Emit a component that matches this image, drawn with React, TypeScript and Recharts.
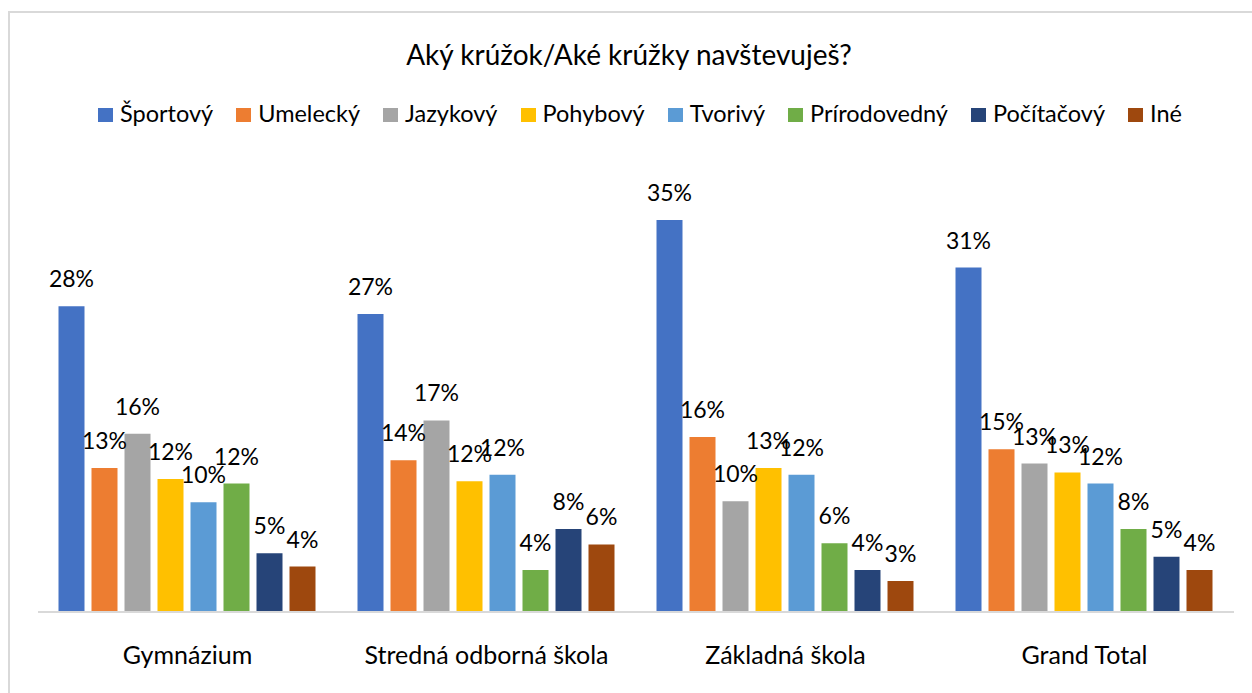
import React from 'react'
import { BarChart, Bar, XAxis, YAxis, LabelList } from 'recharts'

const categories = ['Gymnázium', 'Stredná odborná škola', 'Základná škola', 'Grand Total']

const seriesNames = ['Športový', 'Umelecký', 'Jazykový', 'Pohybový', 'Tvorivý', 'Prírodovedný', 'Počítačový', 'Iné']
const seriesColors = ['#4472C4', '#ED7D31', '#A5A5A5', '#FFC000', '#5B9BD5', '#70AD47', '#264478', '#9E480E']

// percentages per category (same order as categories)
const sportovy = [27.6, 26.9, 35.4, 31.1]
const umelecky = [13.0, 13.7, 15.8, 14.7]
const jazykovy = [16.1, 17.3, 10.0, 13.4]
const pohybovy = [12.0, 11.8, 13.0, 12.6]
const tvorivy = [9.9, 12.4, 12.4, 11.6]
const prirodovedny = [11.6, 3.8, 6.2, 7.5]
const pocitacovy = [5.3, 7.5, 3.8, 5.0]
const ine = [4.1, 6.1, 2.8, 3.8]

const seriesValues = [sportovy, umelecky, jazykovy, pohybovy, tvorivy, prirodovedny, pocitacovy, ine]

const data = categories.map((name, i) => {
  const row: Record<string, string | number> = { name }
  seriesNames.forEach((s, j) => {
    row[s] = seriesValues[j][i]
  })
  return row
})

const FONT = 'Lato, "Open Sans", sans-serif'

const ChartLegend = () => (
  <div
    style={{
      position: 'absolute',
      top: 103,
      left: 14,
      width: 1252,
      display: 'flex',
      justifyContent: 'center',
      fontFamily: FONT,
    }}
  >
    {seriesNames.map((s, i) => (
      <div key={s} style={{ display: 'flex', alignItems: 'flex-start', height: 20, marginLeft: i === 0 ? 0 : 23 }}>
        <div style={{ width: 15, height: 14, marginTop: 5, marginRight: 7, background: seriesColors[i] }} />
        <span style={{ fontSize: 23.5, lineHeight: '20px', color: '#000' }}>{s}</span>
      </div>
    ))}
  </div>
)

const CategoryTick = (props: any) => {
  const { x, y, payload } = props
  return (
    <text x={x} y={y + 52} textAnchor="middle" fontFamily={FONT} fontSize={25} fill="#000">
      {payload.value}
    </text>
  )
}

export default function App() {
  return (
    <div style={{ position: 'relative', width: 1252, height: 693, overflow: 'hidden', background: '#fff' }}>
      <style>{'body{margin:0;overflow:hidden}'}</style>
      <div
        style={{
          position: 'absolute',
          left: 8,
          top: 11,
          width: 1300,
          height: 800,
          border: '2px solid #d9d9d9',
          boxSizing: 'border-box',
        }}
      />
      <svg width={1252} height={80} style={{ position: 'absolute', left: 0, top: 0 }}>
        <text x={629} y={65} textAnchor="middle" fontFamily={FONT} fontSize={28} fill="#000">
          Aký krúžok/Aké krúžky navštevuješ?
        </text>
      </svg>
      <ChartLegend />
      <div style={{ position: 'absolute', left: 0, top: 0 }}>
        <BarChart
          width={1252}
          height={693}
          data={data}
          margin={{ top: 169, right: 18, bottom: 51, left: 38 }}
          barCategoryGap={20.5}
          barGap={7}
        >
          <XAxis
            dataKey="name"
            height={30}
            axisLine={{ stroke: '#d9d9d9', strokeWidth: 2 }}
            tickLine={false}
            tickSize={0}
            tickMargin={0}
            tick={<CategoryTick />}
            interval={0}
          />
          <YAxis hide domain={[0, 40]} />
          {seriesNames.map((s, j) => (
            <Bar key={s} dataKey={s} fill={seriesColors[j]} isAnimationActive={false}>
              <LabelList
                dataKey={s}
                position="top"
                offset={19}
                formatter={(v: any) => `${Math.round(Number(v))}%`}
                style={{ fontFamily: FONT, fontSize: 23, fill: '#000' }}
              />
            </Bar>
          ))}
        </BarChart>
      </div>
    </div>
  )
}
